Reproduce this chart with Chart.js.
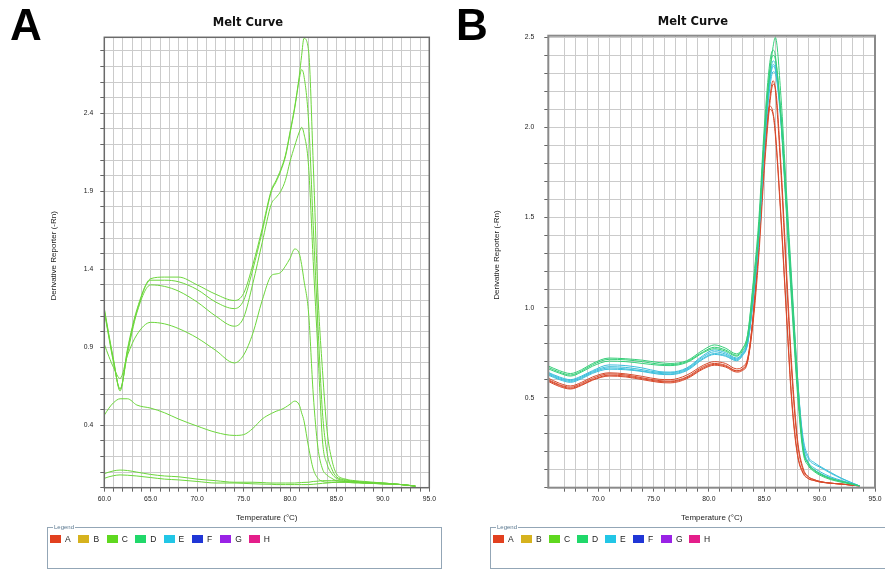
<!DOCTYPE html>
<html><head><meta charset="utf-8">
<script src="https://cdn.jsdelivr.net/npm/chart.js@4.4.0/dist/chart.umd.min.js"></script>
<style>
html,body{margin:0;padding:0;background:#fff;}
body{width:885px;height:570px;position:relative;overflow:hidden;font-family:"Liberation Sans",Arial,sans-serif;}
canvas{position:absolute;top:0;}
#cA{left:0;} #cB{left:442px;}
.panel{position:absolute;font-weight:bold;font-size:44px;line-height:44px;color:#000;font-family:"Liberation Sans",Arial,sans-serif;}
.title{position:absolute;font-weight:bold;font-size:11.5px;line-height:14px;transform:translate(-50%,-50%);white-space:nowrap;color:#111;font-family:"DejaVu Sans",sans-serif;}
.legend{position:absolute;top:527px;height:42px;border:1px solid #93a6b6;box-sizing:border-box;}
.legend .lab{position:absolute;left:5px;top:-5px;font-size:6px;line-height:8px;background:#fff;color:#5a7890;padding:0 1px;}
.items{position:absolute;left:2px;top:6px;display:flex;align-items:center;font-size:8.5px;line-height:10px;color:#222;}
.item{display:flex;align-items:center;flex:none;}
.sw{width:11px;height:8px;margin-right:4px;flex:none;}
</style></head>
<body>
<canvas id="cA" width="442" height="530"></canvas>
<canvas id="cB" width="443" height="530"></canvas>
<div class="panel" style="left:10px;top:2.5px;">A</div>
<div class="panel" style="left:456px;top:2.5px;">B</div>
<div class="title" style="left:248px;top:22px;">Melt Curve</div>
<div class="title" style="left:693px;top:21px;">Melt Curve</div>
<div class="legend" id="legA" style="left:47px;width:395px;"><span class="lab">Legend</span><div class="items"></div></div>
<div class="legend" id="legB" style="left:490px;width:400px;"><span class="lab">Legend</span><div class="items"></div></div>
<script>
// ---------- data: panel A ----------
const tempsA = [60, 60.5, 61, 61.7, 62.5, 63.5, 65, 66.5, 68, 70, 72, 74, 75, 76, 77, 78, 78.5, 79, 79.5, 80, 80.5, 81, 81.25, 81.5, 82, 82.5, 83, 83.5, 84, 84.5, 85, 86, 87, 88, 90, 92, 93.5];
const curveA1 = [1.15, 0.98, 0.82, 0.62, 0.89, 1.14, 1.34, 1.35, 1.35, 1.30, 1.24, 1.20, 1.245, 1.43, 1.66, 1.91, 1.97, 2.04, 2.13, 2.28, 2.44, 2.64, 2.77, 2.88, 2.80, 2.08, 1.25, 0.75, 0.36, 0.18, 0.09, 0.055, 0.045, 0.04, 0.03, 0.02, 0.01];
const curveA2 = [1.14, 0.97, 0.81, 0.63, 0.88, 1.13, 1.33, 1.33, 1.32, 1.27, 1.19, 1.148, 1.20, 1.40, 1.64, 1.90, 1.96, 2.03, 2.12, 2.27, 2.43, 2.62, 2.68, 2.64, 2.35, 1.68, 1.05, 0.48, 0.22, 0.12, 0.07, 0.05, 0.04, 0.035, 0.03, 0.02, 0.01];
const curveA3 = [1.13, 0.96, 0.80, 0.635, 0.86, 1.12, 1.30, 1.29, 1.26, 1.19, 1.10, 1.035, 1.09, 1.31, 1.57, 1.82, 1.86, 1.90, 1.97, 2.09, 2.19, 2.28, 2.31, 2.27, 2.06, 1.45, 0.88, 0.30, 0.15, 0.09, 0.06, 0.045, 0.04, 0.035, 0.03, 0.02, 0.01];
const curveA4 = [0.92, 0.84, 0.77, 0.70, 0.85, 0.98, 1.06, 1.05, 1.02, 0.96, 0.88, 0.80, 0.85, 0.99, 1.20, 1.36, 1.37, 1.38, 1.42, 1.47, 1.53, 1.50, 1.43, 1.33, 1.12, 0.60, 0.26, 0.12, 0.08, 0.06, 0.045, 0.04, 0.035, 0.03, 0.025, 0.02, 0.01];
const curveA5 = [0.465, 0.51, 0.545, 0.57, 0.57, 0.53, 0.51, 0.48, 0.44, 0.395, 0.355, 0.335, 0.34, 0.38, 0.44, 0.476, 0.49, 0.50, 0.515, 0.535, 0.555, 0.53, 0.48, 0.43, 0.26, 0.12, 0.06, 0.04, 0.035, 0.035, 0.035, 0.035, 0.03, 0.03, 0.025, 0.02, 0.01];
const curveA6 = [0.09, 0.10, 0.108, 0.113, 0.11, 0.10, 0.085, 0.075, 0.07, 0.055, 0.045, 0.035, 0.035, 0.035, 0.033, 0.03, 0.03, 0.03, 0.03, 0.03, 0.03, 0.032, 0.033, 0.034, 0.035, 0.04, 0.042, 0.045, 0.045, 0.045, 0.045, 0.04, 0.035, 0.03, 0.025, 0.02, 0.01];
const curveA7 = [0.06, 0.07, 0.077, 0.082, 0.08, 0.075, 0.065, 0.055, 0.05, 0.04, 0.03, 0.03, 0.028, 0.025, 0.023, 0.022, 0.02, 0.02, 0.02, 0.02, 0.02, 0.02, 0.02, 0.02, 0.02, 0.022, 0.025, 0.028, 0.03, 0.033, 0.035, 0.035, 0.035, 0.03, 0.025, 0.02, 0.01];

// ---------- data: panel B ----------
const tempsB = [65.5, 66.5, 67.5, 68.5, 69.5, 71, 72.5, 74, 75.5, 76.5, 78, 79.5, 80.5, 81.5, 82.5, 83, 83.5, 84, 84.5, 85, 85.5, 85.8, 86, 86.5, 87, 87.5, 88, 88.5, 89, 89.5, 90, 91, 92, 93.6];
const greenB1 = [0.676, 0.65, 0.634, 0.655, 0.69, 0.72, 0.716, 0.708, 0.695, 0.69, 0.705, 0.765, 0.793, 0.775, 0.743, 0.77, 0.85, 1.12, 1.43, 1.94, 2.30, 2.45, 2.50, 2.18, 1.65, 1.13, 0.62, 0.22, 0.135, 0.10, 0.08, 0.05, 0.035, 0.01];
const greenB2 = [0.668, 0.642, 0.626, 0.648, 0.683, 0.713, 0.71, 0.70, 0.686, 0.683, 0.70, 0.755, 0.78, 0.765, 0.735, 0.765, 0.85, 1.14, 1.48, 2.00, 2.36, 2.43, 2.40, 2.05, 1.52, 1.00, 0.52, 0.20, 0.12, 0.09, 0.07, 0.045, 0.03, 0.01];
const greenB3 = [0.66, 0.636, 0.62, 0.642, 0.675, 0.703, 0.70, 0.69, 0.68, 0.678, 0.695, 0.75, 0.772, 0.758, 0.73, 0.755, 0.83, 1.08, 1.42, 1.95, 2.32, 2.40, 2.38, 2.08, 1.58, 1.06, 0.56, 0.22, 0.13, 0.095, 0.075, 0.05, 0.035, 0.01];
const cyanB1 = [0.64, 0.615, 0.60, 0.62, 0.65, 0.682, 0.678, 0.665, 0.645, 0.642, 0.665, 0.735, 0.765, 0.75, 0.72, 0.745, 0.82, 1.07, 1.42, 1.93, 2.28, 2.37, 2.35, 2.06, 1.58, 1.08, 0.60, 0.28, 0.17, 0.14, 0.12, 0.085, 0.052, 0.01];
const cyanB2 = [0.635, 0.61, 0.595, 0.615, 0.645, 0.672, 0.668, 0.655, 0.64, 0.638, 0.66, 0.728, 0.755, 0.742, 0.715, 0.74, 0.81, 1.06, 1.40, 1.90, 2.25, 2.34, 2.32, 2.05, 1.56, 1.06, 0.58, 0.24, 0.14, 0.11, 0.09, 0.06, 0.04, 0.01];
const cyanB3 = [0.63, 0.605, 0.59, 0.61, 0.64, 0.665, 0.66, 0.648, 0.635, 0.632, 0.655, 0.72, 0.745, 0.735, 0.71, 0.735, 0.80, 1.04, 1.38, 1.88, 2.22, 2.31, 2.30, 2.03, 1.55, 1.04, 0.56, 0.23, 0.13, 0.10, 0.08, 0.055, 0.035, 0.01];
const cyanB4 = [0.625, 0.60, 0.585, 0.605, 0.635, 0.658, 0.655, 0.645, 0.63, 0.628, 0.65, 0.715, 0.74, 0.73, 0.705, 0.73, 0.80, 1.05, 1.40, 1.92, 2.27, 2.35, 2.33, 2.07, 1.60, 1.10, 0.62, 0.26, 0.16, 0.13, 0.115, 0.08, 0.05, 0.01];
const redB1 = [0.608, 0.58, 0.565, 0.585, 0.615, 0.638, 0.632, 0.618, 0.602, 0.60, 0.625, 0.68, 0.70, 0.69, 0.66, 0.67, 0.72, 0.95, 1.32, 1.80, 2.16, 2.26, 2.21, 1.76, 1.17, 0.62, 0.25, 0.10, 0.06, 0.045, 0.035, 0.025, 0.02, 0.01];
const redB2 = [0.60, 0.572, 0.558, 0.578, 0.607, 0.632, 0.626, 0.61, 0.595, 0.592, 0.615, 0.672, 0.69, 0.68, 0.65, 0.66, 0.71, 0.96, 1.38, 1.88, 2.12, 2.08, 1.98, 1.52, 0.98, 0.48, 0.19, 0.085, 0.05, 0.04, 0.032, 0.025, 0.02, 0.01];
const redB3 = [0.595, 0.568, 0.552, 0.572, 0.60, 0.625, 0.62, 0.605, 0.59, 0.588, 0.61, 0.665, 0.685, 0.675, 0.648, 0.655, 0.705, 0.92, 1.28, 1.76, 2.13, 2.24, 2.22, 1.80, 1.22, 0.66, 0.27, 0.11, 0.06, 0.045, 0.035, 0.025, 0.02, 0.01];
const redB4 = [0.59, 0.562, 0.548, 0.568, 0.597, 0.62, 0.615, 0.60, 0.585, 0.582, 0.605, 0.66, 0.68, 0.67, 0.642, 0.65, 0.70, 0.95, 1.35, 1.85, 2.10, 2.07, 1.96, 1.50, 0.96, 0.46, 0.18, 0.08, 0.05, 0.04, 0.032, 0.025, 0.02, 0.01];

// ---------- tick labels ----------
const xLabelsA = [60, 65, 70, 75, 80, 85, 90, 95];
const yLabelsA = [0.4, 0.9, 1.4, 1.9, 2.4];
const xLabelsB = [70, 75, 80, 85, 90, 95];
const yLabelsB = [0.5, 1.0, 1.5, 2.0, 2.5];

// ---------- legend ----------
const legendKeys = ['A', 'B', 'C', 'D', 'E', 'F', 'G', 'H'];
const legendColors = ['#e2401f', '#d6b21e', '#5fd81f', '#20d86a', '#22c6e6', '#2036d6', '#9a22e6', '#e41e8a'];

const COL_A = '#6cd63c';
const COL_RED = '#d84a2c';
const COL_GREEN = '#35cf78';
const COL_CYAN = '#3bbfdc';

function buildLegend(id, step) {
  const box = document.querySelector('#' + id + ' .items');
  legendKeys.forEach((k, i) => {
    const it = document.createElement('div');
    it.className = 'item';
    it.style.width = step + 'px';
    const sw = document.createElement('span');
    sw.className = 'sw';
    sw.style.background = legendColors[i];
    const t = document.createElement('span');
    t.textContent = k;
    it.appendChild(sw); it.appendChild(t);
    box.appendChild(it);
  });
}
buildLegend('legA', 28.4);
buildLegend('legB', 28);

const framePlugin = {
  id: 'frame',
  afterDraw(chart, args, opts) {
    const {ctx, chartArea: a} = chart;
    ctx.save();
    ctx.strokeStyle = opts.color;
    ctx.lineWidth = opts.width;
    ctx.strokeRect(a.left, a.top, a.right - a.left, a.bottom - a.top);
    ctx.restore();
  }
};

function near(list, v) { return list.some(l => Math.abs(l - v) < 1e-6); }

// leading no-break spaces nudge the rotated axis title slightly upward, as in the original
const Y_TITLE = '\u00a0\u00a0\u00a0\u00a0\u00a0\u00a0Derivative Reporter (-Rn)';

function makeChart(id, cfg) {
  const datasets = cfg.series.map(s => ({
    data: cfg.temps.map((t, i) => ({x: t, y: s.values[i]})),
    borderColor: s.color,
    borderWidth: 1,
    pointRadius: 0,
    fill: false,
    cubicInterpolationMode: 'monotone'
  }));
  const xTicks = [];
  for (let v = cfg.xGridStart; v <= cfg.xMax + 1e-9; v += 1) xTicks.push(v);
  const yTicks = [];
  for (let k = 0; k / 10 <= cfg.yMax + 1e-9; k++) yTicks.push(k / 10);
  return new Chart(document.getElementById(id), {
    type: 'line',
    data: {datasets},
    plugins: [framePlugin],
    options: {
      responsive: false,
      animation: false,
      events: [],
      layout: {padding: {left: 45, right: cfg.padRight, top: cfg.top, bottom: 0}},
      plugins: {
        legend: {display: false},
        tooltip: {enabled: false},
        title: {display: false},
        frame: {color: cfg.frameColor, width: cfg.frameWidth}
      },
      scales: {
        x: {
          type: 'linear',
          min: cfg.xMin, max: cfg.xMax,
          afterBuildTicks: s => { s.ticks = xTicks.map(v => ({value: v})); },
          afterFit: s => { s.height = 530 - cfg.bottom; s.paddingLeft = 0; s.paddingRight = 0; },
          ticks: {
            autoSkip: false, maxRotation: 0, minRotation: 0, padding: 3,
            color: '#222', font: {family: 'Liberation Sans', size: 6.8},
            callback: v => near(cfg.xLabels, v) ? v.toFixed(1) : ''
          },
          grid: {color: '#cbcbcb', lineWidth: 1, tickLength: 4, tickColor: '#666', drawTicks: true},
          border: {display: false},
          title: {display: true, text: 'Temperature (°C)', color: '#222',
                  font: {family: 'Liberation Sans', size: 8}, padding: {top: 0, bottom: 7.9}}
        },
        y: {
          type: 'linear',
          min: 0, max: cfg.yMax,
          afterBuildTicks: s => { s.ticks = yTicks.map(v => ({value: v})); },
          afterFit: s => { s.width = cfg.left - 45; s.paddingTop = 0; s.paddingBottom = 0; },
          ticks: {
            autoSkip: false, padding: cfg.yPad,
            color: '#222', font: {family: 'Liberation Sans', size: 6.8},
            callback: v => near(cfg.yLabels, v) ? v.toFixed(1) : ''
          },
          grid: {color: '#cbcbcb', lineWidth: 1, tickLength: 4, tickColor: '#666', drawTicks: true},
          border: {display: false},
          title: {display: true, text: Y_TITLE, color: '#222',
                  font: {family: 'Liberation Sans', size: 8}, padding: {top: cfg.yTitlePad, bottom: 0}}
        }
      }
    }
  });
}

makeChart('cA', {
  temps: tempsA,
  series: [curveA1, curveA2, curveA3, curveA4, curveA5, curveA6, curveA7].map(v => ({values: v, color: COL_A})),
  xMin: 60, xMax: 95, xGridStart: 60, yMax: 2.887,
  xLabels: xLabelsA, yLabels: yLabelsA,
  left: 104.3, padRight: 442 - 429.3, top: 37.3, bottom: 487.7,
  yPad: 7, yTitlePad: 3.7, frameColor: '#6a6a6a', frameWidth: 1.5
});

makeChart('cB', {
  temps: tempsB,
  series: [
    {values: greenB1, color: COL_GREEN}, {values: greenB2, color: COL_GREEN}, {values: greenB3, color: COL_GREEN},
    {values: cyanB1, color: COL_CYAN}, {values: cyanB2, color: COL_CYAN}, {values: cyanB3, color: COL_CYAN}, {values: cyanB4, color: COL_CYAN},
    {values: redB1, color: COL_RED}, {values: redB2, color: COL_RED}, {values: redB3, color: COL_RED}, {values: redB4, color: COL_RED}
  ],
  xMin: 65.5, xMax: 95, xGridStart: 67, yMax: 2.51,
  xLabels: xLabelsB, yLabels: yLabelsB,
  left: 548.3 - 442, padRight: 443 - 433, top: 35.7, bottom: 487.7,
  yPad: 10, yTitlePad: 5.2, frameColor: '#8a8a8a', frameWidth: 2
});
</script>
</body></html>
